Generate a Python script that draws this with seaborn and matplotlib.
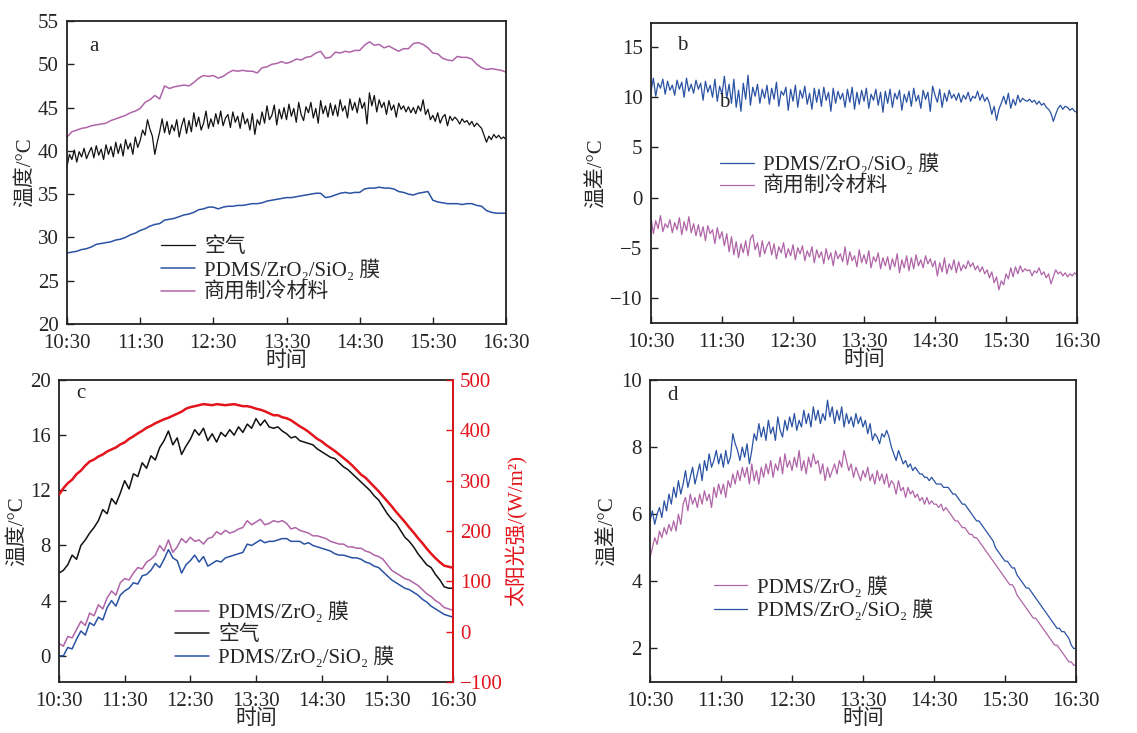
import numpy as np
import pandas as pd
import matplotlib
matplotlib.use("Agg")
import matplotlib.pyplot as plt
import seaborn as sns

# ---------------- data (minutes after 10:30) ----------------
minutes = np.arange(0, 361, 4)      # smoother series, every 4 min
minutes2 = np.arange(0, 361, 2)     # noisy series, every 2 min
tick_minutes = [0, 60, 120, 180, 240, 300, 360]
tick_labels = ["10:30", "11:30", "12:30", "13:30", "14:30", "15:30", "16:30"]

# panel a (2-min)
a_air = [38.2, 39.6, 39.0, 40.1, 38.7, 39.9, 39.3, 40.3, 39.1, 39.8,
         40.4, 39.2, 40.6, 39.5, 40.2, 39.0, 40.7, 39.6, 40.5, 39.3,
         41.0, 39.7, 40.8, 39.4, 41.3, 40.2, 40.9, 39.6, 41.6, 40.4,
         41.2, 42.4, 41.8, 43.6, 42.5, 41.7, 39.6, 41.0, 42.2, 43.7,
         42.1, 43.4, 41.9, 43.0, 42.3, 43.6, 41.6, 42.9, 43.8, 42.0,
         43.5, 42.2, 44.4, 42.8, 43.9, 42.4, 43.2, 44.6, 42.6, 43.7,
         42.8, 44.3, 43.1, 44.6, 42.9, 43.8, 44.2, 42.7, 44.5, 43.3,
         44.0, 42.6, 44.4, 43.1, 43.7, 42.4, 44.3, 41.9, 43.6, 43.0,
         44.5, 43.2, 45.2, 43.6, 44.1, 45.3, 43.0, 44.8, 43.7, 45.0,
         43.6, 45.4, 44.0, 44.9, 43.3, 45.6, 44.2, 43.5, 45.1, 44.4,
         45.6, 43.8, 44.9, 43.2, 45.8, 44.3, 45.2, 43.9, 45.5, 44.1,
         45.3, 44.0, 45.9, 44.6, 45.2, 43.8, 46.0, 44.7, 45.6, 44.4,
         46.1, 44.9, 45.6, 43.1, 46.7, 45.2, 46.4, 44.5, 45.9, 45.0,
         45.6, 44.2, 45.8, 44.7, 45.3, 43.9, 45.5, 44.8, 45.2, 44.5,
         45.1, 44.4, 45.0, 44.3, 45.2, 44.6, 45.9, 44.2, 44.8, 43.6,
         44.1, 43.4, 44.4, 43.2, 43.9, 44.2, 42.9, 44.0, 43.5, 43.9,
         43.6, 43.1, 43.7, 43.3, 43.5, 43.0, 43.4, 42.8, 43.2, 42.9,
         42.6, 41.8, 41.0, 41.7, 41.3, 41.9, 41.5, 41.8, 41.4, 41.6,
         41.3]
# panel a (4-min)
a_film = [28.2, 28.3, 28.4, 28.6, 28.7, 28.9, 29.2, 29.3, 29.4, 29.5,
          29.7, 29.8, 30.0, 30.3, 30.5, 30.8, 31.0, 31.3, 31.5, 31.6,
          32.0, 32.1, 32.2, 32.4, 32.6, 32.7, 32.9, 33.2, 33.3, 33.5,
          33.5, 33.3, 33.5, 33.6, 33.6, 33.7, 33.7, 33.8, 33.9, 33.9,
          34.0, 34.2, 34.3, 34.4, 34.5, 34.6, 34.6, 34.7, 34.8, 34.9,
          35.0, 35.1, 35.1, 34.6, 34.7, 34.9, 35.1, 35.2, 35.1, 35.2,
          35.2, 35.6, 35.7, 35.7, 35.8, 35.7, 35.7, 35.6, 35.3, 35.2,
          35.0, 34.9, 35.1, 35.2, 35.3, 34.3, 34.1, 34.0, 33.9, 33.9,
          33.9, 33.8, 33.9, 33.9, 33.7, 33.6, 33.1, 32.9, 32.8, 32.8,
          32.8]
a_comm = [41.6, 42.2, 42.4, 42.6, 42.7, 42.9, 43.0, 43.1, 43.2, 43.5,
          43.7, 43.9, 44.1, 44.4, 44.6, 44.9, 45.6, 45.9, 46.4, 46.0,
          47.5, 47.2, 47.4, 47.5, 47.6, 47.5, 47.9, 48.4, 48.7, 48.6,
          48.7, 48.4, 48.6, 49.0, 49.3, 49.2, 49.3, 49.2, 49.2, 49.0,
          49.6, 49.7, 50.0, 50.1, 50.3, 50.1, 50.3, 50.6, 50.5, 50.8,
          50.9, 51.3, 51.5, 50.7, 50.8, 51.4, 51.3, 51.5, 51.4, 51.6,
          51.6, 52.2, 52.6, 52.2, 52.3, 51.9, 52.1, 51.8, 51.5, 51.8,
          51.8, 52.4, 52.5, 52.3, 51.9, 51.3, 51.2, 50.7, 50.5, 50.4,
          50.9, 50.8, 50.8, 50.6, 50.0, 49.6, 49.4, 49.5, 49.4, 49.3,
          49.1]

# panel b (2-min)
b_film = [10.6, 11.9, 10.1, 11.4, 10.9, 11.8, 10.3, 11.6, 10.7, 11.2,
          10.2, 11.7, 10.8, 11.5, 10.0, 11.9, 10.6, 11.3, 10.4, 11.7,
          10.8, 11.4, 9.7, 11.6, 10.5, 11.2, 10.0, 11.8, 9.6, 11.1,
          10.3, 12.1, 9.9, 11.3, 9.4, 11.8, 9.0, 10.7, 8.6, 11.4,
          9.8, 12.2, 9.2, 11.0, 10.1, 11.3, 9.4, 10.8, 9.9, 11.2,
          9.3, 10.9, 9.8, 11.5, 9.1, 10.6, 10.2, 11.0, 8.7, 10.8,
          9.6, 11.2, 9.0, 10.7, 9.9, 11.1, 9.3, 10.4, 8.8, 10.9,
          9.5, 10.8, 9.1, 11.0, 9.7, 10.5, 8.6, 10.9, 9.4, 10.6,
          9.8, 10.4, 9.0, 10.8, 9.5, 11.0, 8.8, 10.5, 9.3, 10.7,
          9.6, 10.9, 8.9, 10.3, 9.7, 10.8, 9.2, 10.5, 8.5, 10.6,
          9.4, 10.8, 9.0, 10.4, 9.8, 10.7, 8.7, 10.3, 9.5, 10.6,
          9.1, 10.9, 9.6, 10.2, 8.9, 10.7, 9.8, 10.5, 8.6, 11.1,
          10.2, 9.5, 10.8, 9.0, 10.4, 9.6, 10.7, 9.9, 10.3, 9.7,
          10.4, 9.5, 10.2, 9.8, 10.5, 9.6, 10.1, 9.9, 10.6, 9.7,
          10.3, 9.6, 10.0, 9.4, 8.3, 9.1, 7.7, 8.8, 9.4, 10.1,
          9.3, 10.4, 8.9, 9.8, 9.2, 10.2, 9.5, 9.9, 9.7, 9.6,
          9.8, 9.5, 9.7, 9.3, 9.6, 9.2, 9.4, 9.0, 8.8, 8.4,
          7.6, 8.3, 8.9, 9.2, 8.8, 9.1, 9.0, 8.7, 8.9, 8.6,
          8.5]
b_comm = [-2.0, -3.6, -2.3, -3.1, -1.8, -3.4, -2.6, -3.0, -2.2, -3.5,
          -2.5, -3.2, -2.0, -3.7, -2.4, -3.3, -1.9, -3.5, -2.6, -3.8,
          -2.7, -3.9, -2.9, -4.3, -2.8, -3.6, -3.2, -4.6, -3.0, -4.1,
          -3.4, -4.8, -3.6, -5.4, -3.9, -5.7, -4.4, -6.0, -4.6, -5.5,
          -4.3, -5.8, -4.1, -3.7, -5.2, -4.5, -5.9, -4.3, -5.6, -4.8,
          -4.4, -5.7, -4.6, -6.1, -4.9, -5.5, -4.5, -6.0, -5.1, -5.8,
          -4.7, -6.2, -5.0, -5.6, -4.8, -6.3, -5.3, -5.9, -4.9, -6.5,
          -5.2, -6.0, -5.4, -6.6, -5.1, -6.2, -5.5, -6.8, -5.3, -6.1,
          -5.6, -6.4, -4.9, -6.7, -5.4, -6.3, -5.8, -6.9, -5.2, -6.5,
          -5.7, -6.6, -5.3, -7.0, -5.9, -6.4, -5.5, -7.1, -6.0, -6.8,
          -5.9, -7.2, -6.1, -6.9, -5.6, -7.5, -6.2, -7.0, -5.8, -7.3,
          -6.0, -7.1, -5.7, -6.8, -6.2, -7.0, -5.8, -6.6, -6.1, -6.9,
          -6.3, -7.8, -6.5, -7.4, -6.0, -7.6, -6.6, -7.2, -6.2, -7.5,
          -6.4, -7.3, -6.7, -7.1, -6.3, -6.9, -6.5, -7.2, -6.8, -7.4,
          -6.9, -7.6, -7.2, -8.0, -7.4, -8.5, -7.9, -9.2, -8.3, -8.7,
          -7.6, -8.1, -7.0, -7.9, -6.9, -7.6, -6.8, -7.4, -7.1, -7.3,
          -7.2, -7.8, -7.3, -7.5, -7.0, -7.7, -7.4, -8.0, -7.6, -8.6,
          -7.9, -7.2, -7.6, -7.4, -7.8, -7.5, -7.9, -7.6, -7.8, -7.5,
          -7.7]

# panel c (4-min)
c_zro2 = [0.9, 0.7, 1.4, 1.3, 1.9, 2.5, 2.2, 3.1, 2.9, 3.7,
          3.4, 4.2, 4.7, 4.4, 5.3, 5.6, 5.5, 6.0, 6.4, 6.3,
          6.8, 7.0, 7.3, 8.0, 7.6, 8.4, 7.5, 7.9, 8.5, 8.2,
          8.6, 8.3, 8.4, 8.1, 8.5, 8.6, 9.0, 8.8, 9.1, 8.9,
          9.0, 9.2, 9.3, 9.8, 9.5, 9.7, 9.9, 9.5, 9.6, 9.8,
          9.7, 9.8, 9.6, 9.2, 9.3, 9.1, 9.0, 8.9, 8.7, 8.7,
          8.6, 8.5, 8.3, 8.2, 8.1, 8.1, 7.9, 7.9, 7.8, 7.8,
          7.6, 7.5, 7.3, 7.2, 7.0, 6.6, 6.2, 6.0, 5.8, 5.6,
          5.5, 5.3, 5.1, 4.8, 4.5, 4.3, 4.0, 3.8, 3.5, 3.4,
          3.3]
c_air = [6.0, 6.2, 6.6, 7.3, 7.0, 8.0, 8.4, 8.9, 9.3, 9.8,
         10.6, 10.3, 11.4, 11.0, 11.8, 12.7, 12.1, 13.2, 13.0, 14.0,
         13.6, 14.5, 14.2, 15.1, 15.6, 16.3, 15.3, 15.8, 14.6, 15.2,
         15.7, 16.4, 16.0, 16.5, 15.6, 16.1, 15.5, 16.2, 15.9, 16.4,
         16.0, 16.6, 16.2, 16.8, 16.5, 17.2, 16.7, 17.1, 16.6, 16.5,
         16.6, 16.3, 16.1, 15.8, 15.9, 15.6, 15.5, 15.4, 15.3, 15.0,
         14.8, 14.6, 14.4, 14.3, 14.0, 13.7, 13.5, 13.2, 12.9, 12.6,
         12.3, 12.0, 11.6, 11.3, 10.8, 10.3, 9.9, 9.6, 9.1, 8.6,
         8.3, 7.9, 7.4, 7.0, 6.6, 6.4, 5.9, 5.5, 5.0, 4.9,
         4.9]
c_film = [0.0, 0.0, 0.6, 0.5, 1.2, 1.8, 1.5, 2.4, 2.2, 2.8,
          2.6, 3.5, 4.0, 3.6, 4.4, 4.7, 4.9, 5.3, 5.2, 5.8,
          5.9, 6.2, 6.7, 6.4, 7.0, 7.7, 7.1, 6.9, 6.0, 6.6,
          6.9, 7.3, 6.8, 7.2, 6.5, 6.7, 6.9, 6.8, 7.1, 7.2,
          7.3, 7.4, 7.5, 8.1, 8.0, 8.2, 8.4, 8.2, 8.3, 8.3,
          8.4, 8.5, 8.5, 8.3, 8.3, 8.3, 8.1, 8.2, 8.0, 7.9,
          7.8, 7.7, 7.6, 7.4, 7.3, 7.3, 7.2, 7.1, 7.1, 7.0,
          6.8, 6.7, 6.5, 6.4, 6.1, 5.8, 5.5, 5.3, 5.1, 4.9,
          4.8, 4.6, 4.4, 4.1, 3.9, 3.6, 3.4, 3.2, 3.0, 2.9,
          2.8]
c_solar = [272, 285, 295, 302, 313, 320, 330, 338, 342, 348,
           352, 358, 362, 366, 372, 376, 383, 388, 394, 399,
           405, 409, 414, 418, 422, 425, 429, 433, 437, 443,
           446, 448, 450, 452, 451, 450, 452, 451, 450, 451,
           452, 450, 448, 448, 446, 443, 441, 438, 434, 430,
           430, 426, 424, 420, 414, 408, 403, 397, 390, 383,
           378, 371, 365, 359, 352, 345, 338, 330, 321, 312,
           306, 297, 288, 279, 269, 259, 249, 238, 228, 218,
           207, 197, 186, 176, 165, 155, 146, 138, 131, 129,
           127]

# panel d (2-min)
d_zro2 = [4.7, 5.0, 5.3, 5.1, 5.5, 5.3, 5.6, 5.4, 5.7, 5.5,
          5.8, 5.5, 6.0, 5.7, 6.3, 6.5, 6.1, 6.6, 6.3, 6.5,
          6.2, 6.6, 6.3, 6.7, 6.4, 6.6, 6.2, 6.8, 6.5, 6.9,
          6.6, 6.9, 6.5, 7.0, 6.8, 7.2, 6.9, 7.3, 7.0, 7.4,
          7.1, 7.4, 6.9, 7.5, 7.0, 7.3, 6.9, 7.4, 7.1, 7.5,
          7.2, 7.6, 7.1, 7.5, 7.3, 7.7, 7.2, 7.8, 7.4, 7.6,
          7.3, 7.7, 7.4, 7.9, 7.3, 7.6, 7.2, 7.7, 7.4, 7.8,
          7.5, 7.6, 7.2, 7.5, 7.0, 7.4, 7.1, 7.3, 7.5, 7.2,
          7.6, 7.4, 7.9, 7.6, 7.3, 7.5, 7.1, 7.4, 7.2, 7.0,
          7.3, 7.1, 7.4, 7.0, 7.2, 6.9, 7.3, 7.0, 7.2, 6.9,
          7.2, 6.8, 7.0, 6.9, 6.6, 7.0, 6.7, 6.8, 6.5, 6.8,
          6.6, 6.7, 6.5, 6.6, 6.4, 6.5, 6.3, 6.5, 6.3, 6.4,
          6.3, 6.3, 6.2, 6.3, 6.1, 6.2, 6.1, 6.0, 5.9, 5.8,
          5.8, 5.7, 5.6, 5.6, 5.5, 5.4, 5.4, 5.3, 5.3, 5.2,
          5.1, 5.0, 4.9, 4.8, 4.7, 4.6, 4.5, 4.4, 4.3, 4.2,
          4.1, 4.0, 3.9, 3.9, 3.8, 3.6, 3.5, 3.4, 3.3, 3.2,
          3.1, 3.0, 2.9, 2.9, 2.8, 2.7, 2.6, 2.5, 2.4, 2.3,
          2.2, 2.1, 2.1, 2.0, 1.9, 1.8, 1.7, 1.6, 1.6, 1.5,
          1.5]
d_film = [5.8, 6.1, 5.7, 6.0, 6.2, 5.9, 6.4, 6.1, 6.6, 6.3,
          6.8, 6.5, 7.0, 6.6, 6.9, 7.3, 6.8, 7.1, 7.4, 6.9,
          7.2, 7.5, 7.0, 7.6, 7.3, 7.8, 7.4, 7.6, 7.9, 7.5,
          7.8, 7.4, 7.9, 7.5, 7.7, 8.4, 8.1, 7.9, 7.6, 8.0,
          7.7, 8.1, 7.5, 7.9, 8.4, 8.2, 8.7, 8.3, 8.6, 8.2,
          8.8, 8.4, 8.6, 8.2, 8.9, 8.5, 8.3, 8.8, 8.5, 8.9,
          8.6, 9.0, 8.5, 8.8, 8.6, 9.1, 8.7, 9.0, 8.6, 9.2,
          8.8, 9.1, 8.7, 9.0, 8.8, 9.4, 8.9, 9.2, 8.7, 9.1,
          8.8, 9.2, 8.6, 9.0, 8.7, 8.9, 8.6, 9.0, 8.7, 8.9,
          8.6, 8.8, 8.4, 8.7, 8.2, 8.4, 8.3, 8.1, 8.4, 8.3,
          8.5, 8.3, 8.0, 7.8, 7.6, 7.9, 7.7, 7.5, 7.6, 7.4,
          7.5, 7.3, 7.4, 7.3, 7.2, 7.2, 7.1, 7.1, 7.0, 7.1,
          7.0, 6.9, 6.9, 6.9, 6.8, 6.8, 6.8, 6.7, 6.6, 6.6,
          6.5, 6.4, 6.3, 6.3, 6.2, 6.1, 6.0, 5.9, 5.8, 5.8,
          5.7, 5.6, 5.5, 5.4, 5.3, 5.2, 5.0, 4.9, 4.8, 4.7,
          4.6, 4.6, 4.5, 4.4, 4.4, 4.2, 4.1, 4.0, 3.9, 3.8,
          3.8, 3.7, 3.6, 3.5, 3.4, 3.3, 3.2, 3.1, 3.0, 2.9,
          2.8, 2.7, 2.6, 2.6, 2.5, 2.5, 2.4, 2.3, 2.1, 2.0,
          2.0]

lbl_air = "空气"
lbl_film = "PDMS/ZrO₂/SiO₂ 膜"
lbl_zro2 = "PDMS/ZrO₂ 膜"
lbl_comm = "商用制冷材料"

# ---------------- style ----------------
sns.set_style("white")
FAM = ["Liberation Serif", "Noto Sans CJK SC", "DejaVu Sans"]
plt.rcParams["font.family"] = FAM
plt.rcParams["axes.unicode_minus"] = True
FS = 15

C_BLACK = "#111111"
C_BLUE = "#2a52a3"
C_PINK = "#b064a8"
C_RED = "#e3141c"

fig = plt.figure(figsize=(11.37, 7.33), dpi=100)

def frac(l, t, r, b):
    W, H = 1137, 733
    return [l / W, 1 - b / H, (r - l) / W, (b - t) / H]

ax_a = fig.add_axes(frac(67, 21, 506, 324))
ax_b = fig.add_axes(frac(651, 23, 1077, 323))
ax_c = fig.add_axes(frac(59, 380, 453, 682))
ax_d = fig.add_axes(frac(650, 380, 1076, 682))

def draw(ax, t, y, color, label, lw=0.9):
    df = pd.DataFrame({"t": t, "v": y})
    sns.lineplot(data=df, x="t", y="v", ax=ax, color=color, lw=lw,
                 label=label, estimator=None)

def fmt(vals):
    return [("−" + str(-v)) if v < 0 else str(v) for v in vals]

def style(ax, ylim, yticks, ylabel, letter, lx, ly):
    ax.set_xlim(0, 360)
    ax.set_ylim(*ylim)
    ax.set_xticks(tick_minutes)
    ax.set_xticklabels(tick_labels)
    ax.set_yticks(yticks)
    ax.set_yticklabels(fmt(yticks))
    ax.tick_params(direction="in", length=5, width=1, labelsize=FS,
                   top=False, right=False, bottom=True, left=True, pad=7,
                   color="#222222")
    ax.tick_params(axis="y", pad=6)
    for s in ax.spines.values():
        s.set_linewidth(1.3)
        s.set_color("#222222")
    ax.set_xlabel("时间", fontsize=FS, labelpad=-1)
    ax.set_ylabel(ylabel, fontsize=FS, labelpad=2)
    ax.text(lx, ly, letter, transform=ax.transAxes, fontsize=FS,
            ha="left", va="center")

def legend(ax, x, y, handles=None, labels=None):
    if handles is None:
        handles, labels = ax.get_legend_handles_labels()
    ax.legend(handles, labels, loc="upper left", bbox_to_anchor=(x, y),
              frameon=False, fontsize=FS, handlelength=1.6,
              handletextpad=0.45, labelspacing=0.1, borderpad=0,
              borderaxespad=0)

# panel a
draw(ax_a, minutes2, a_air, C_BLACK, lbl_air)
draw(ax_a, minutes, a_film, C_BLUE, lbl_film, 1.1)
draw(ax_a, minutes, a_comm, C_PINK, lbl_comm, 1.1)
style(ax_a, (20, 55), list(range(20, 56, 5)), "温度/°C", "a", 0.05, 0.915)
legend(ax_a, 0.215, 0.285)

# panel b
draw(ax_b, minutes2, b_film, C_BLUE, lbl_film)
draw(ax_b, minutes2, b_comm, C_PINK, lbl_comm)
style(ax_b, (-12.5, 17.4), list(range(-10, 16, 5)), "温差/°C", "b", 0.06, 0.925)
ax_b.text(0.16, 0.735, "b", transform=ax_b.transAxes, fontsize=FS,
          ha="left", va="center")
legend(ax_b, 0.163, 0.565)

# panel c
draw(ax_c, minutes, c_zro2, C_PINK, lbl_zro2, 1.1)
draw(ax_c, minutes, c_air, C_BLACK, lbl_air, 1.1)
draw(ax_c, minutes, c_film, C_BLUE, lbl_film, 1.1)
style(ax_c, (-1.9, 20), list(range(0, 21, 4)), "温度/°C", "c", 0.045, 0.955)
h, l = ax_c.get_legend_handles_labels()
ax_c2 = ax_c.twinx()
sns.lineplot(data=pd.DataFrame({"t": minutes, "v": c_solar}), x="t", y="v",
             ax=ax_c2, color=C_RED, lw=1.8, estimator=None, legend=False)
ax_c2.set_ylim(-100, 500)
rt = list(range(-100, 501, 100))
ax_c2.set_yticks(rt)
ax_c2.set_yticklabels(fmt(rt))
ax_c2.tick_params(axis="y", direction="in", length=5, width=1, labelsize=FS,
                  colors=C_RED, pad=5, right=True, left=False)
ax_c2.spines["right"].set_color(C_RED)
ax_c2.spines["right"].set_linewidth(1.3)
for k in ("left", "top", "bottom"):
    ax_c2.spines[k].set_visible(False)
ax_c2.set_ylabel("太阳光强/(W/m²)", fontsize=FS, color=C_RED, labelpad=2)
ax_c2.set_xlabel("")
legend(ax_c, 0.295, 0.265, h, l)

# panel d
draw(ax_d, minutes2, d_zro2, C_PINK, lbl_zro2)
draw(ax_d, minutes2, d_film, C_BLUE, lbl_film)
style(ax_d, (1, 10), list(range(2, 11, 2)), "温差/°C", "d", 0.04, 0.95)
legend(ax_d, 0.15, 0.35)

fig.savefig("out.png", dpi=100)
